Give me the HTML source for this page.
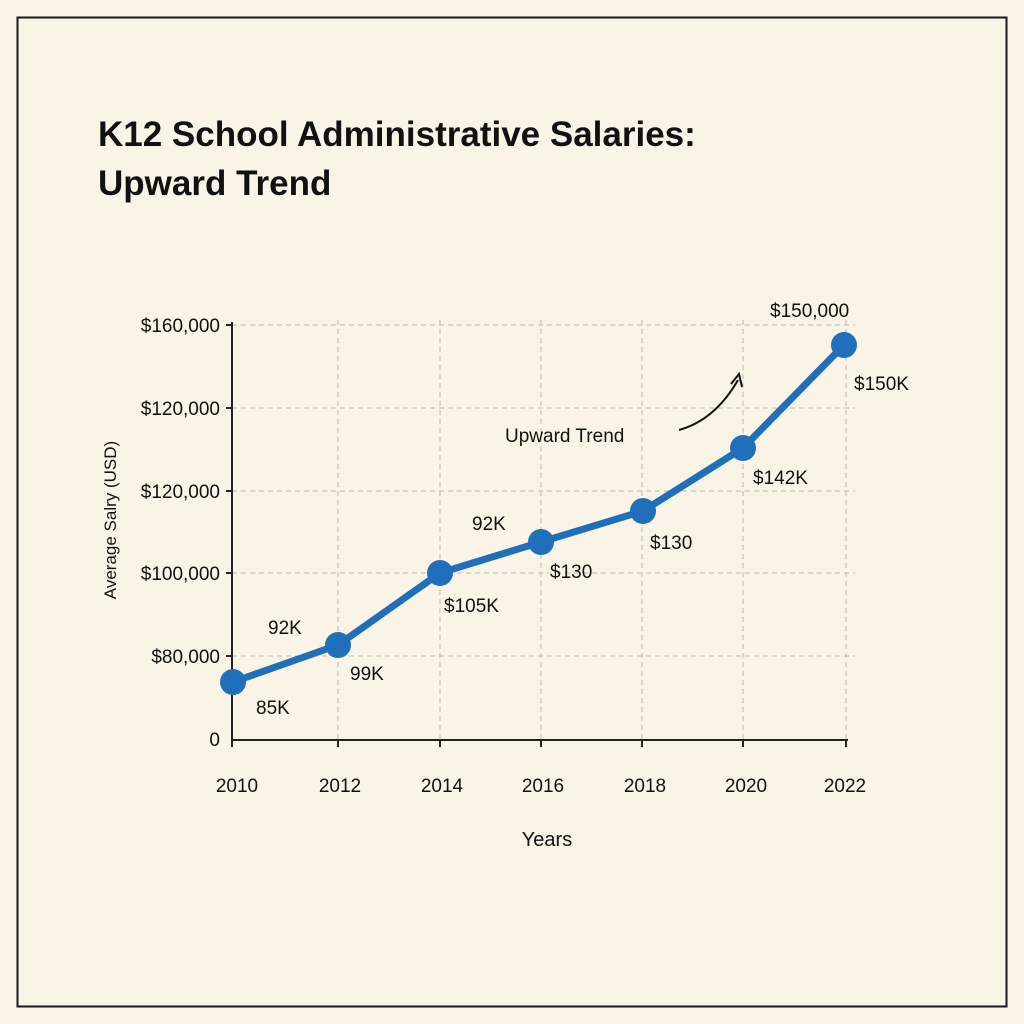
<!DOCTYPE html>
<html><head><style>
html,body{margin:0;padding:0;background:#f8f3e4;}
body{width:1024px;height:1024px;position:relative;overflow:hidden;font-family:"Liberation Sans",sans-serif;}
</style></head><body>
<svg width="1024" height="1024" xmlns="http://www.w3.org/2000/svg" style="position:absolute;left:0;top:0">
<rect x="0" y="0" width="1024" height="1024" fill="#f8f3e4"/>
<rect x="17.5" y="17.5" width="989" height="989" fill="#f9f4e6" stroke="#1a1a1a" stroke-width="2"/>
<g font-family="Liberation Sans, sans-serif" fill="#111">
<text x="98" y="146" font-size="35" font-weight="bold">K12 School Administrative Salaries:</text>
<text x="98" y="195" font-size="35" font-weight="bold">Upward Trend</text>
</g>
<g stroke="#bdb8aa" stroke-width="1" stroke-dasharray="5,4" fill="none">
<line x1="232" y1="325" x2="855" y2="325"/>
<line x1="232" y1="408" x2="855" y2="408"/>
<line x1="232" y1="491" x2="855" y2="491"/>
<line x1="232" y1="573" x2="855" y2="573"/>
<line x1="232" y1="656" x2="855" y2="656"/>
<line x1="338" y1="320" x2="338" y2="740"/>
<line x1="440" y1="320" x2="440" y2="740"/>
<line x1="541" y1="320" x2="541" y2="740"/>
<line x1="642" y1="320" x2="642" y2="740"/>
<line x1="743" y1="320" x2="743" y2="740"/>
<line x1="846" y1="320" x2="846" y2="740"/>
</g>
<g stroke="#222" stroke-width="2">
<line x1="232" y1="322" x2="232" y2="741"/>
<line x1="231" y1="740" x2="848" y2="740"/>
<line x1="226" y1="325" x2="232" y2="325"/>
<line x1="226" y1="408" x2="232" y2="408"/>
<line x1="226" y1="491" x2="232" y2="491"/>
<line x1="226" y1="573" x2="232" y2="573"/>
<line x1="226" y1="656" x2="232" y2="656"/>
<line x1="232" y1="740" x2="232" y2="747"/>
<line x1="338" y1="740" x2="338" y2="747"/>
<line x1="440" y1="740" x2="440" y2="747"/>
<line x1="541" y1="740" x2="541" y2="747"/>
<line x1="642" y1="740" x2="642" y2="747"/>
<line x1="743" y1="740" x2="743" y2="747"/>
<line x1="846" y1="740" x2="846" y2="747"/>
</g>
<g font-family="Liberation Sans, sans-serif" font-size="19" fill="#111" text-anchor="end">
<text x="220" y="332">$160,000</text>
<text x="220" y="415">$120,000</text>
<text x="220" y="498">$120,000</text>
<text x="220" y="580">$100,000</text>
<text x="220" y="663">$80,000</text>
<text x="220" y="746">0</text>
</g>
<g font-family="Liberation Sans, sans-serif" font-size="19" fill="#111" text-anchor="middle">
<text x="237" y="792">2010</text>
<text x="340" y="792">2012</text>
<text x="442" y="792">2014</text>
<text x="543" y="792">2016</text>
<text x="645" y="792">2018</text>
<text x="746" y="792">2020</text>
<text x="845" y="792">2022</text>
<text x="547" y="846" font-size="20">Years</text>
<text transform="translate(116,520) rotate(-90)" font-size="17">Average Salry (USD)</text>
</g>
<polyline points="233,682 338,645 440,573 541,542 643,511 743,448 844,345" fill="none" stroke="#1f6fba" stroke-width="7" stroke-linejoin="round"/>
<g fill="#1f6fba">
<circle cx="233" cy="682" r="13"/><circle cx="338" cy="645" r="13"/><circle cx="440" cy="573" r="13"/>
<circle cx="541" cy="542" r="13"/><circle cx="643" cy="511" r="13"/><circle cx="743" cy="448" r="13"/>
<circle cx="844" cy="345" r="13"/>
</g>
<g font-family="Liberation Sans, sans-serif" font-size="19" fill="#111">
<text x="256" y="714">85K</text>
<text x="268" y="634">92K</text>
<text x="350" y="680">99K</text>
<text x="444" y="612">$105K</text>
<text x="472" y="530">92K</text>
<text x="550" y="578">$130</text>
<text x="650" y="549">$130</text>
<text x="753" y="484">$142K</text>
<text x="854" y="390">$150K</text>
<text x="770" y="317">$150,000</text>
<text x="505" y="442">Upward Trend</text>
</g>
<path d="M679,430 Q715,420 738,380" fill="none" stroke="#111" stroke-width="2"/>
<path d="M731,384 L739,374 L742,387" fill="none" stroke="#111" stroke-width="2"/>
</svg>
</body></html>
